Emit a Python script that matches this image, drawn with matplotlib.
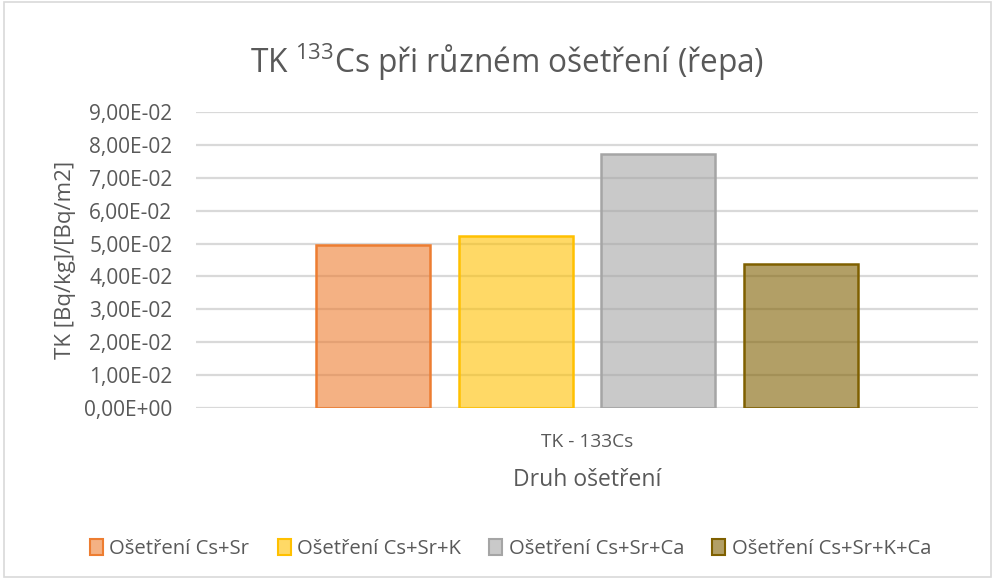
#
# -*- coding: utf-8 -*-
#

"""
TK 133Cs - bar chart
"""

import matplotlib
matplotlib.use("Agg")
import matplotlib.pyplot as plt
from matplotlib.patches import Rectangle, Patch

plt.rcParams['font.family'] = ['Open Sans', 'DejaVu Sans']
plt.rcParams['mathtext.default'] = 'regular'

# Data
category = 'TK - 133Cs'
series = ['Ošetření Cs+Sr', 'Ošetření Cs+Sr+K', 'Ošetření Cs+Sr+Ca',
          'Ošetření Cs+Sr+K+Ca']
values = [4.97e-2, 5.24e-2, 7.73e-2, 4.38e-2]
y_ticks = [i * 0.01 for i in range(10)]

base_colors = ['#ED7D31', '#FFC000', '#A5A5A5', '#7F6000']
text_color = '#595959'
grid_color = '#D9D9D9'

fig = plt.figure(figsize=(9.95, 5.79), dpi=100)
ax = fig.add_axes([0.197, 0.2953, 0.786, 0.5113])

# Bars: one category, four series side by side
width = 0.1458
step = 0.1822
for i, (name, v, c) in enumerate(zip(series, values, base_colors)):
    x = (i - 1.5) * step
    ax.bar(x, v, width=width, color=c, alpha=0.6, zorder=2)
    ax.bar(x, v, width=width, facecolor='none', edgecolor=c,
           linewidth=1.8, zorder=3)

ax.set_xlim(-0.5, 0.5)
ax.set_ylim(0, 0.09)
ax.set_yticks(y_ticks)
ax.set_yticklabels([f"{t:.2E}".replace('.', ',') for t in y_ticks])
ax.set_xticks([0])
ax.set_xticklabels([category])

ax.grid(axis='y', color=grid_color, linewidth=1.6, zorder=0)
ax.set_axisbelow(True)
for s in ax.spines.values():
    s.set_visible(False)
ax.tick_params(axis='y', length=0, colors=text_color, labelsize=15, pad=17)
ax.tick_params(axis='x', length=0, colors=text_color, labelsize=13.8, pad=18)

ax.set_xlabel('Druh ošetření', fontsize=16.5, color=text_color, labelpad=12)
ax.set_ylabel('TK [Bq/kg]/[Bq/m2]', fontsize=16, color=text_color,
              labelpad=6)

fig.text(0.51, 0.893, 'TK $^{133}$Cs při různém ošetření (řepa)',
         ha='center', va='center', fontsize=22.8, color=text_color)

# Legend
handles = [Patch(facecolor=matplotlib.colors.to_rgba(c, 0.6), edgecolor=c,
                 linewidth=1.5) for c in base_colors]
fig.legend(handles, series, loc='center', bbox_to_anchor=(0.513, 0.052),
           ncol=4, frameon=False, fontsize=14.6, labelcolor=text_color,
           handlelength=0.65, handleheight=0.85, handletextpad=0.3,
           columnspacing=1.4)

# Chart area border
fig.patches.append(Rectangle((0.004, 0.004), 0.992, 0.992,
                             transform=fig.transFigure, fill=False,
                             edgecolor=grid_color, linewidth=1.2))

fig.savefig('out.png', dpi=100)
